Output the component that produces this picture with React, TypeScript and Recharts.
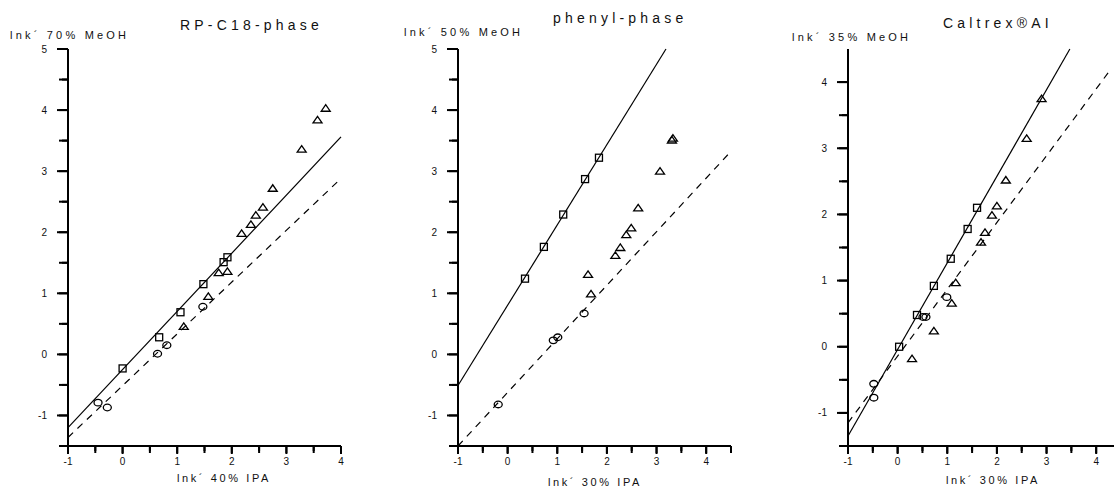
import React from "react";
import { ScatterChart, Scatter, XAxis, YAxis, ReferenceLine } from "recharts";

// RP-C18-phase (lnk´ 40% IPA vs lnk´ 70% MeOH)
const c18SquareX = [0.0, 0.67, 1.06, 1.48, 1.85, 1.92];
const c18SquareY = [-0.23, 0.28, 0.69, 1.15, 1.51, 1.59];
const c18TriangleX = [1.12, 1.57, 1.76, 1.92, 2.18, 2.35, 2.44, 2.57, 2.75, 3.28, 3.57, 3.72];
const c18TriangleY = [0.46, 0.95, 1.34, 1.36, 1.98, 2.13, 2.28, 2.41, 2.72, 3.36, 3.84, 4.03];
const c18CircleX = [-0.45, -0.28, 0.64, 0.81, 1.47];
const c18CircleY = [-0.79, -0.87, 0.01, 0.15, 0.78];
const c18SolidX = [-1, 4];
const c18SolidY = [-1.2, 3.56];
const c18DashX = [-1, 4];
const c18DashY = [-1.36, 2.88];

// phenyl-phase (lnk´ 30% IPA vs lnk´ 50% MeOH)
const phSquareX = [0.35, 0.73, 1.12, 1.56, 1.84];
const phSquareY = [1.24, 1.76, 2.29, 2.87, 3.22];
const phTriangleX = [1.62, 1.68, 2.17, 2.27, 2.39, 2.49, 2.63, 3.07, 3.31, 3.33];
const phTriangleY = [1.31, 0.99, 1.62, 1.75, 1.96, 2.07, 2.4, 3.0, 3.51, 3.54];
const phCircleX = [-0.19, 0.92, 1.01, 1.54];
const phCircleY = [-0.82, 0.23, 0.28, 0.67];
const phSolidX = [-1, 3.19];
const phSolidY = [-0.51, 5.0];
const phDashX = [-1, 4.46];
const phDashY = [-1.5, 3.29];

// Caltrex®AI (lnk´ 30% IPA vs lnk´ 35% MeOH)
const caSquareX = [0.03, 0.39, 0.73, 1.07, 1.41, 1.6];
const caSquareY = [0.0, 0.48, 0.92, 1.33, 1.78, 2.1];
const caTriangleX = [0.29, 0.73, 1.09, 1.17, 1.68, 1.76, 1.9, 2.0, 2.18, 2.6, 2.9];
const caTriangleY = [-0.18, 0.24, 0.66, 0.97, 1.58, 1.73, 1.99, 2.13, 2.52, 3.15, 3.75];
const caCircleX = [-0.48, -0.48, 0.51, 0.57, 0.99];
const caCircleY = [-0.56, -0.77, 0.45, 0.45, 0.75];
const caSolidX = [-1, 3.47];
const caSolidY = [-1.35, 4.5];
const caDashX = [-1, 4.31];
const caDashY = [-1.15, 4.21];

const ticksX5 = [-1, -0.5, 0, 0.5, 1, 1.5, 2, 2.5, 3, 3.5, 4];
const ticksX45 = [-1, -0.5, 0, 0.5, 1, 1.5, 2, 2.5, 3, 3.5, 4, 4.5];
const ticksY5 = [-1.5, -1, -0.5, 0, 0.5, 1, 1.5, 2, 2.5, 3, 3.5, 4, 4.5, 5];
const ticksY45 = [-1.5, -1, -0.5, 0, 0.5, 1, 1.5, 2, 2.5, 3, 3.5, 4];

const pts = (xs: number[], ys: number[]) => xs.map((x, i) => ({ x, y: ys[i] }));

const FONT = "'Liberation Sans', Arial, Helvetica, sans-serif";
const INK = "#000";

const isMajor = (v: number) => Math.abs(v - Math.round(v)) < 1e-6;
const majorLabel = (v: number) => (isMajor(v) && v !== -1.5 ? String(v) : "");
const tickFont = { fontSize: 10, fontFamily: FONT, fill: "#111" };

const SquareMark = (p: any) => (
  <rect x={p.cx - 3.5} y={p.cy - 3.5} width={7} height={7} fill="none" stroke={INK} strokeWidth={1.3} />
);
const TriangleMark = (p: any) => (
  <polygon
    points={`${p.cx - 4.5},${p.cy + 3} ${p.cx + 4.5},${p.cy + 3} ${p.cx},${p.cy - 3.5}`}
    fill="none"
    stroke={INK}
    strokeWidth={1.3}
  />
);
const CircleMark = (p: any) => (
  <ellipse cx={p.cx} cy={p.cy} rx={4} ry={3.3} fill="none" stroke={INK} strokeWidth={1.3} />
);

type Pt = { x: number; y: number };
type PanelProps = {
  left: number;
  width: number;
  marginLeft: number;
  marginRight: number;
  xMax: number;
  yMax: number;
  xTicks: number[];
  yTicks: number[];
  squares: Pt[];
  triangles: Pt[];
  circles: Pt[];
  solid: Pt[];
  dashed: Pt[];
};

const Y_AXIS_W = 60;
const TOP = 49;
const X_AXIS_H = 41;
const H = 487;

function Panel(p: PanelProps) {
  return (
    <div style={{ position: "absolute", left: p.left, top: 0 }}>
      <ScatterChart
        width={p.width}
        height={H}
        margin={{ top: TOP, right: p.marginRight, bottom: 0, left: p.marginLeft }}
      >
        <XAxis
          type="number"
          dataKey="x"
          domain={[-1, p.xMax]}
          ticks={p.xTicks}
          interval={0}
          height={X_AXIS_H}
          stroke={INK}
          strokeWidth={2}
          tickLine={{ stroke: INK }}
          tickSize={7}
          tickMargin={5}
          tickFormatter={majorLabel}
          tick={tickFont}
        />
        <YAxis
          type="number"
          dataKey="y"
          domain={[-1.5, p.yMax]}
          ticks={p.yTicks}
          interval={0}
          width={Y_AXIS_W}
          stroke={INK}
          strokeWidth={2}
          tickLine={{ stroke: INK }}
          tickSize={9}
          tickMargin={12}
          tickFormatter={majorLabel}
          tick={tickFont}
        />
        <ReferenceLine segment={p.solid} stroke={INK} strokeWidth={1.2} ifOverflow="visible" />
        <ReferenceLine
          segment={p.dashed}
          stroke={INK}
          strokeWidth={1.2}
          strokeDasharray="7 6"
          ifOverflow="visible"
        />
        <Scatter data={p.circles} shape={CircleMark} isAnimationActive={false} />
        <Scatter data={p.triangles} shape={TriangleMark} isAnimationActive={false} />
        <Scatter data={p.squares} shape={SquareMark} isAnimationActive={false} />
      </ScatterChart>
    </div>
  );
}

// axis frame drawn from the same panel geometry (plot box + domains) as the charts
function AxisFrame(p: PanelProps) {
  const l = p.left + p.marginLeft + Y_AXIS_W;
  const r = p.left + p.width - p.marginRight;
  const t = TOP;
  const b = H - X_AXIS_H;
  const sx = (v: number) => l + ((v + 1) / (p.xMax + 1)) * (r - l);
  const sy = (v: number) => b - ((v + 1.5) / (p.yMax + 1.5)) * (b - t);
  return (
    <g stroke={INK} strokeWidth={2}>
      <line x1={l} y1={b} x2={r} y2={b} />
      <line x1={l} y1={t} x2={l} y2={b} />
      {p.xTicks.map((v) => (
        <line key={`x${v}`} x1={sx(v)} y1={b} x2={sx(v)} y2={b + (isMajor(v) ? 8 : 5)} />
      ))}
      {p.yTicks.map((v) => (
        <line key={`y${v}`} x1={l} y1={sy(v)} x2={l - (isMajor(v) && v !== -1.5 ? 11 : 6)} y2={sy(v)} />
      ))}
    </g>
  );
}

const titles = [
  { text: "RP-C18-phase", x: 180, y: 30 },
  { text: "phenyl-phase", x: 553, y: 23 },
  { text: "Caltrex®AI", x: 943, y: 28 },
];
const yLabels = [
  { text: "lnk´ 70% MeOH", x: 10, y: 39 },
  { text: "lnk´ 50% MeOH", x: 404, y: 36 },
  { text: "lnk´ 35% MeOH", x: 792, y: 41 },
];
const xLabels = [
  { text: "lnk´ 40% IPA", x: 177, y: 482 },
  { text: "lnk´ 30% IPA", x: 548, y: 486 },
  { text: "lnk´ 30% IPA", x: 946, y: 484 },
];

export default function App() {
  const panels: PanelProps[] = [
    {
      left: 0,
      width: 371,
      marginLeft: 8,
      marginRight: 30,
      xMax: 4,
      yMax: 5,
      xTicks: ticksX5,
      yTicks: ticksY5,
      squares: pts(c18SquareX, c18SquareY),
      triangles: pts(c18TriangleX, c18TriangleY),
      circles: pts(c18CircleX, c18CircleY),
      solid: pts(c18SolidX, c18SolidY),
      dashed: pts(c18DashX, c18DashY),
    },
    {
      left: 371,
      width: 371,
      marginLeft: 27,
      marginRight: 11,
      xMax: 4.5,
      yMax: 5,
      xTicks: ticksX45,
      yTicks: ticksY5,
      squares: pts(phSquareX, phSquareY),
      triangles: pts(phTriangleX, phTriangleY),
      circles: pts(phCircleX, phCircleY),
      solid: pts(phSolidX, phSolidY),
      dashed: pts(phDashX, phDashY),
    },
    {
      left: 743,
      width: 380,
      marginLeft: 45,
      marginRight: 2,
      xMax: 4.5,
      yMax: 4.5,
      xTicks: ticksX45,
      yTicks: ticksY45,
      squares: pts(caSquareX, caSquareY),
      triangles: pts(caTriangleX, caTriangleY),
      circles: pts(caCircleX, caCircleY),
      solid: pts(caSolidX, caSolidY),
      dashed: pts(caDashX, caDashY),
    },
  ];
  return (
    <div
      style={{
        position: "absolute",
        left: 0,
        top: 0,
        width: 1114,
        height: 487,
        overflow: "hidden",
        background: "#fff",
      }}
    >
      {panels.map((p) => (
        <Panel key={p.left} {...p} />
      ))}
      <svg width={1114} height={487} style={{ position: "absolute", left: 0, top: 0 }}>
        {panels.map((p) => (
          <AxisFrame key={p.left} {...p} />
        ))}
        {titles.map((t) => (
          <text key={t.text} x={t.x} y={t.y} fontSize={14} letterSpacing={4.2} fontFamily={FONT} fill="#111">
            {t.text}
          </text>
        ))}
        {yLabels.map((t) => (
          <text key={t.text} x={t.x} y={t.y} fontSize={11} letterSpacing={3.2} fontFamily={FONT} fill="#111">
            {t.text}
          </text>
        ))}
        {xLabels.map((t, i) => (
          <text key={i} x={t.x} y={t.y} fontSize={11} letterSpacing={2.6} fontFamily={FONT} fill="#111">
            {t.text}
          </text>
        ))}
      </svg>
    </div>
  );
}
